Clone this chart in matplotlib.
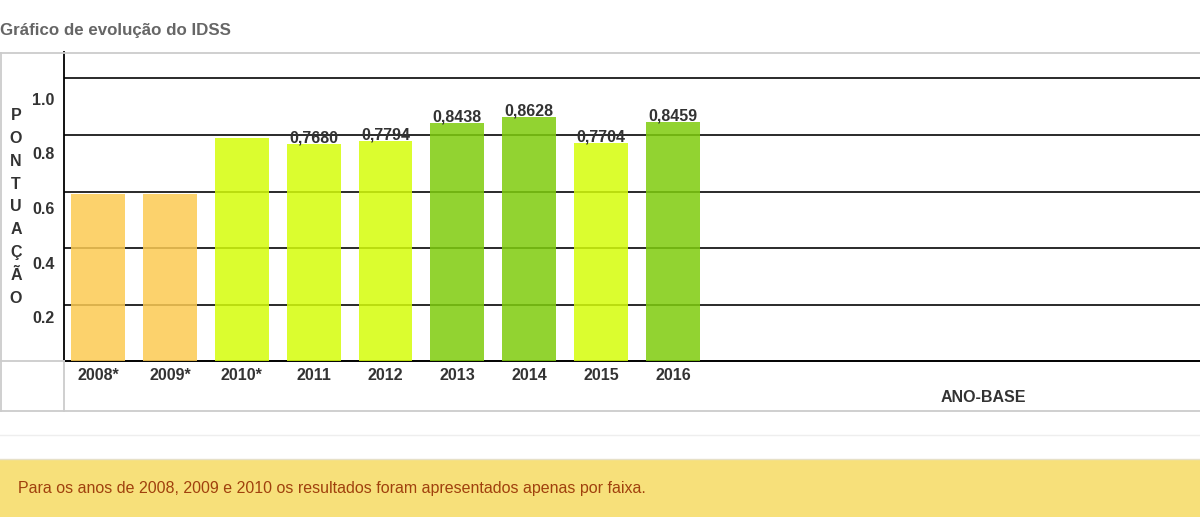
import matplotlib
matplotlib.use("Agg")
import matplotlib.pyplot as plt
from matplotlib.lines import Line2D
from matplotlib.patches import Rectangle

# ---- data ----
years = ["2008*", "2009*", "2010*", "2011", "2012", "2013", "2014", "2015", "2016"]
scores = [0.59, 0.59, 0.79, 0.7680, 0.7794, 0.8438, 0.8628, 0.7704, 0.8459]
labels = [None, None, None, "0,7680", "0,7794", "0,8438", "0,8628", "0,7704", "0,8459"]
bands = ["orange", "orange", "lime", "lime", "lime", "green", "green", "lime", "green"]
yticks = [0.2, 0.4, 0.6, 0.8, 1.0]
ytick_labels = ["0.2", "0.4", "0.6", "0.8", "1.0"]
ylabel_letters = list("PONTUAÇÃO")
title = "Gráfico de evolução do IDSS"
xlabel = "ANO-BASE"
footnote = "Para os anos de 2008, 2009 e 2010 os resultados foram apresentados apenas por faixa."

band_colors = {"orange": "#fcca52", "lime": "#d5fd0a", "green": "#7fcc0d"}

plt.rcParams['font.family'] = ['Liberation Sans', 'DejaVu Sans']

W, H = 1200, 517
fig = plt.figure(figsize=(W / 100, H / 100), dpi=100)
fig.patch.set_facecolor("white")

def fx(px):
    return px / W

def fy(py):
    return 1 - py / H

# main axes
ax_left, ax_right, ax_top, ax_bot = 64, 1200, 52, 361.3
ax = fig.add_axes([fx(ax_left), fy(ax_bot), fx(ax_right - ax_left), (ax_bot - ax_top) / H])
x = list(range(len(years)))
ax.bar(x, scores, width=0.75, color=[band_colors[b] for b in bands], alpha=0.85, zorder=3)
ax.set_xlim(-0.473, 15.33)
ax.set_ylim(0, 1.093)
ax.set_yticks(yticks)
ax.set_yticklabels([])
ax.tick_params(axis="y", length=0)
ax.yaxis.grid(True, color="#2a2a2a", linewidth=1.4, zorder=1)
ax.set_axisbelow(True)
ax.set_xticks(x)
ax.set_xticklabels(years, fontsize=11.5, fontweight="bold", color="#333333")
ax.tick_params(axis="x", length=0, pad=5)
for s in ["top", "right"]:
    ax.spines[s].set_visible(False)
ax.spines["left"].set_color("black")
ax.spines["left"].set_linewidth(1.3)
ax.spines["bottom"].set_color("black")
ax.spines["bottom"].set_linewidth(1.4)
ax.patch.set_alpha(0)

for xi, v, lab in zip(x, scores, labels):
    if lab:
        ax.annotate(lab, (xi, v), xytext=(0, 1), textcoords="offset points",
                    ha="center", va="baseline", fontsize=11.5, fontweight="bold",
                    color="#333333", zorder=5)

# tick labels column (offset scale as in reference)
lab_top, lab_bot = 98.7, 372.0
ax_lab = fig.add_axes([fx(ax_left), fy(lab_bot), 0.0001, (lab_bot - lab_top) / H])
ax_lab.set_ylim(0, 1.0)
ax_lab.set_yticks(yticks)
ax_lab.set_yticklabels(ytick_labels, fontsize=11.5, fontweight="bold", color="#333333")
ax_lab.tick_params(axis="y", length=0, pad=7)
ax_lab.set_xticks([])
for s in ax_lab.spines.values():
    s.set_visible(False)
ax_lab.patch.set_alpha(0)

# vertical stacked y-label
for i, ch in enumerate(ylabel_letters):
    fig.text(fx(16), fy(115.7 + i * 22.8), ch, ha="center", va="center",
             fontsize=11.5, fontweight="bold", color="#333333")

# title
fig.text(fx(0), fy(31), title, ha="left", va="center", fontsize=12.2,
         fontweight="bold", color="#666666")

# x label
fig.text(fx(983), fy(398), xlabel, ha="center", va="center", fontsize=11.5,
         fontweight="bold", color="#333333")

# frame lines
gray = "#cccccc"
def hline(y, x0, x1, c=gray, lw=1.3):
    fig.add_artist(Line2D([fx(x0), fx(x1)], [fy(y), fy(y)], color=c, linewidth=lw))

def vline(xp, y0, y1, c=gray, lw=1.3):
    fig.add_artist(Line2D([fx(xp), fx(xp)], [fy(y0), fy(y1)], color=c, linewidth=lw))

hline(53, 0, 1200)
hline(411, 0, 1200)
hline(361.3, 0, 64)
vline(0.7, 53, 411)
vline(64.3, 361.3, 411)
hline(435, 0, 1200, c="#eeeeee", lw=1.0)

# footnote box
fig.add_artist(Rectangle((0, 0), 1, fy(459), transform=fig.transFigure,
                         facecolor="#f7e07a", edgecolor="none"))
hline(459, 0, 1200, c="#e6e0c8", lw=1.0)
fig.text(fx(18), fy(489), footnote, ha="left", va="center", fontsize=11.5,
         color="#a0410d")

fig.savefig("out.png", dpi=100)
